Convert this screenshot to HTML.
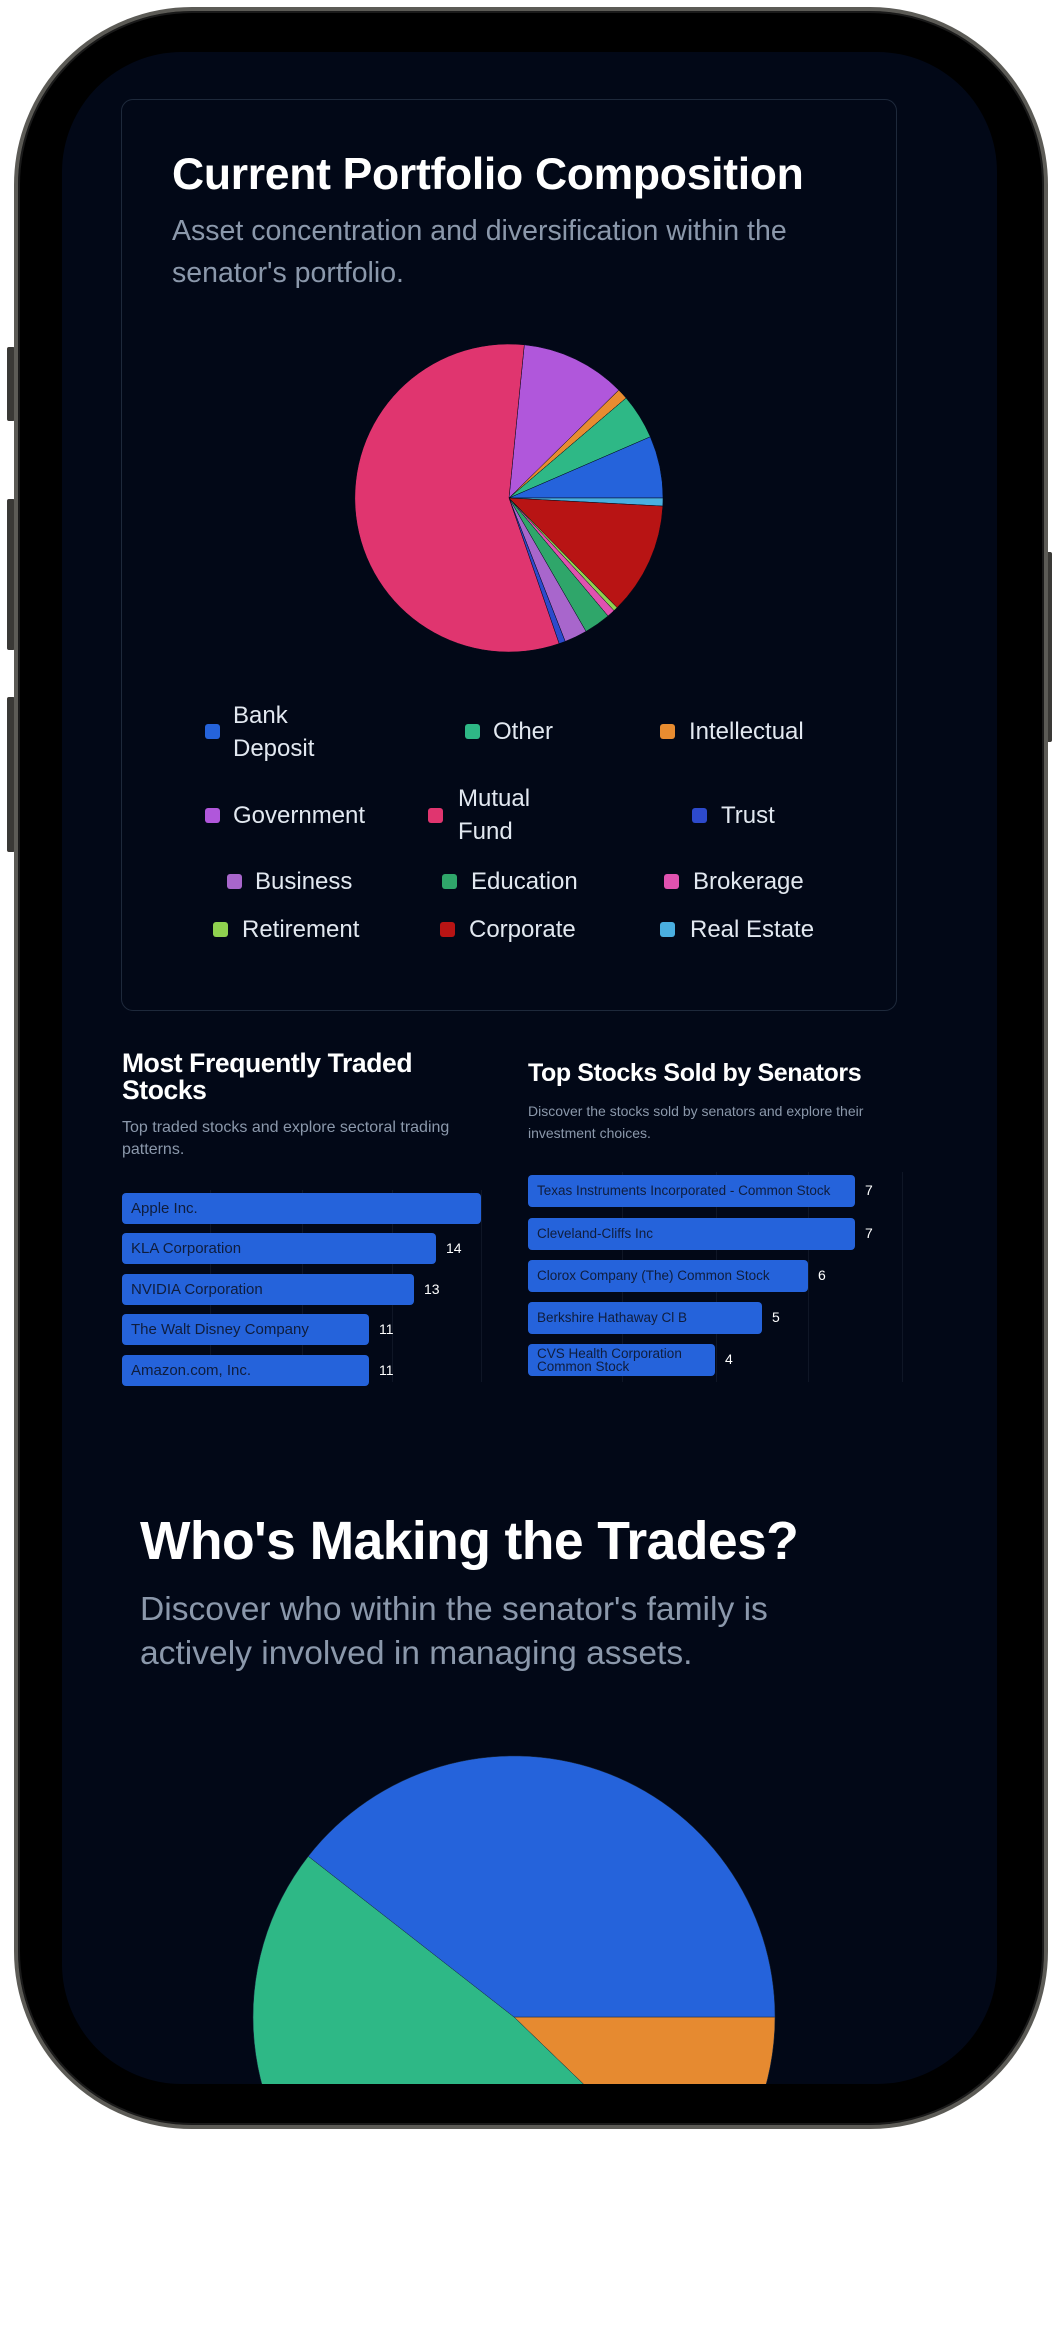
<!DOCTYPE html>
<html><head><meta charset="utf-8"><style>
*{margin:0;padding:0;box-sizing:border-box}
body{width:1055px;height:2330px;background:#fff;position:relative;overflow:hidden;font-family:"Liberation Sans",sans-serif}
.abs{position:absolute}
.phone{left:14px;top:7px;width:1034px;height:2122px;border-radius:178px;background:#000;border:4px solid #5c5b56;box-shadow:inset 0 0 0 2px #1a1a1a}
.btn{background:#3a3936;border-radius:2px}
.screen{left:62px;top:52px;width:935px;height:2032px;border-radius:120px;background:#020817;overflow:hidden}
.t{position:absolute;white-space:nowrap}
.leg{color:#e2e8f0;font-size:24px;line-height:33px}
.sw{position:absolute;width:15px;height:15px;border-radius:3px}
.bar{position:absolute;height:31px;background:#2563db;border-radius:4px;color:#0f1d3d;font-size:15px;line-height:31px;padding-left:9px;white-space:nowrap;overflow:hidden}
.val{position:absolute;color:#fff;font-size:14px;line-height:31px}
.grid{position:absolute;width:1px;background:#0f1626}
</style></head><body>
<div class="abs btn" style="left:7px;top:347px;width:8px;height:74px"></div>
<div class="abs btn" style="left:7px;top:499px;width:8px;height:151px"></div>
<div class="abs btn" style="left:7px;top:697px;width:8px;height:155px"></div>
<div class="abs btn" style="left:1044px;top:552px;width:8px;height:190px"></div>
<div class="abs phone"></div>
<div class="abs screen">
<div style="position:absolute;left:-62px;top:-52px;width:1055px;height:2330px">
<div class="abs" style="left:121px;top:99px;width:776px;height:912px;border:1.5px solid #1e293b;border-radius:12px"></div>
<div class="t" style="left:172px;top:150px;font-size:44.5px;font-weight:bold;color:#fff;letter-spacing:-0.3px">Current Portfolio Composition</div>
<div class="t" style="left:172px;top:210px;font-size:28.5px;line-height:42px;color:#8b98ab">Asset concentration and diversification within the<br>senator's portfolio.</div>
<svg class="abs" style="left:0;top:0" width="1055" height="2330">
<g stroke="#020817" stroke-width="0.5">
<path d="M509 498 L524.3 344.8 A154 154 0 0 1 618.8 390.1Z" fill="#b057db"/>
<path d="M509 498 L618.8 390.1 A154 154 0 0 1 626.1 398Z" fill="#e88c30"/>
<path d="M509 498 L626.1 398 A154 154 0 0 1 650.3 436.8Z" fill="#2eb886"/>
<path d="M509 498 L650.3 436.8 A154 154 0 0 1 663 498Z" fill="#2563db"/>
<path d="M509 498 L663 498 A154 154 0 0 1 662.8 506.1Z" fill="#4aafe0"/>
<path d="M509 498 L662.8 506.1 A154 154 0 0 1 617.1 607.6Z" fill="#b81414"/>
<path d="M509 498 L617.1 607.6 A154 154 0 0 1 614 610.6Z" fill="#8fd14f"/>
<path d="M509 498 L614 610.6 A154 154 0 0 1 608 616Z" fill="#e052b0"/>
<path d="M509 498 L608 616 A154 154 0 0 1 586 631.4Z" fill="#2fa66a"/>
<path d="M509 498 L586 631.4 A154 154 0 0 1 565.2 641.4Z" fill="#a866cc"/>
<path d="M509 498 L565.2 641.4 A154 154 0 0 1 559.1 643.6Z" fill="#2d4acc"/>
<path d="M509 498 L559.1 643.6 A154 154 0 1 1 524.3 344.8Z" fill="#e0356f"/>
</g>
<g stroke="#1a2a40" stroke-width="0.5">
<path d="M514 2017 L775 2017 A261 261 0 0 1 701.7 2198.3Z" fill="#e68a30"/>
<path d="M514 2017 L701.7 2198.3 A261 261 0 0 1 308.3 1856.3Z" fill="#2eb886"/>
<path d="M514 2017 L308.3 1856.3 A261 261 0 0 1 775 2017Z" fill="#2563db"/>
</g>
</svg>
<!-- legend -->
<div class="sw" style="left:205px;top:724px;background:#2563db"></div><div class="t leg" style="left:233px;top:699px">Bank<br>Deposit</div>
<div class="sw" style="left:465px;top:724px;background:#2eb886"></div><div class="t leg" style="left:493px;top:715px">Other</div>
<div class="sw" style="left:660px;top:724px;background:#e88c30"></div><div class="t leg" style="left:689px;top:715px">Intellectual</div>
<div class="sw" style="left:205px;top:808px;background:#b057db"></div><div class="t leg" style="left:233px;top:799px">Government</div>
<div class="sw" style="left:428px;top:808px;background:#e0356f"></div><div class="t leg" style="left:458px;top:782px">Mutual<br>Fund</div>
<div class="sw" style="left:692px;top:808px;background:#2d4acc"></div><div class="t leg" style="left:721px;top:799px">Trust</div>
<div class="sw" style="left:227px;top:874px;background:#a866cc"></div><div class="t leg" style="left:255px;top:865px">Business</div>
<div class="sw" style="left:442px;top:874px;background:#2fa66a"></div><div class="t leg" style="left:471px;top:865px">Education</div>
<div class="sw" style="left:664px;top:874px;background:#e052b0"></div><div class="t leg" style="left:693px;top:865px">Brokerage</div>
<div class="sw" style="left:213px;top:922px;background:#8fd14f"></div><div class="t leg" style="left:242px;top:913px">Retirement</div>
<div class="sw" style="left:440px;top:922px;background:#b81414"></div><div class="t leg" style="left:469px;top:913px">Corporate</div>
<div class="sw" style="left:660px;top:922px;background:#4aafe0"></div><div class="t leg" style="left:690px;top:913px">Real Estate</div>
<!-- left bar chart -->
<div class="t" style="left:122px;top:1050px;font-size:26.5px;line-height:27px;font-weight:bold;color:#fff;letter-spacing:-0.4px">Most Frequently Traded<br>Stocks</div>
<div class="t" style="left:122px;top:1117px;font-size:16px;line-height:22px;color:#8b98ab">Top traded stocks and explore sectoral trading<br>patterns.</div>
<div class="grid" style="left:210px;top:1190px;height:192px"></div>
<div class="grid" style="left:302px;top:1190px;height:192px"></div>
<div class="grid" style="left:392px;top:1190px;height:192px"></div>
<div class="grid" style="left:481px;top:1190px;height:192px"></div>
<div class="bar" style="left:122px;top:1193px;width:359px">Apple Inc.</div>
<div class="bar" style="left:122px;top:1233px;width:314px">KLA Corporation</div><div class="val" style="left:446px;top:1233px">14</div>
<div class="bar" style="left:122px;top:1274px;width:292px">NVIDIA Corporation</div><div class="val" style="left:424px;top:1274px">13</div>
<div class="bar" style="left:122px;top:1314px;width:247px">The Walt Disney Company</div><div class="val" style="left:379px;top:1314px">11</div>
<div class="bar" style="left:122px;top:1355px;width:247px">Amazon.com, Inc.</div><div class="val" style="left:379px;top:1355px">11</div>
<!-- right bar chart -->
<div class="t" style="left:528px;top:1059px;font-size:25px;font-weight:bold;color:#fff;letter-spacing:-0.4px">Top Stocks Sold by Senators</div>
<div class="t" style="left:528px;top:1100px;font-size:14px;line-height:22px;color:#8b98ab">Discover the stocks sold by senators and explore their<br>investment choices.</div>
<div class="grid" style="left:622px;top:1172px;height:210px"></div>
<div class="grid" style="left:716px;top:1172px;height:210px"></div>
<div class="grid" style="left:808px;top:1172px;height:210px"></div>
<div class="grid" style="left:902px;top:1172px;height:210px"></div>
<div class="bar" style="left:528px;top:1175px;width:327px;height:32px;font-size:13.5px">Texas Instruments Incorporated - Common Stock</div><div class="val" style="left:865px;top:1175px">7</div>
<div class="bar" style="left:528px;top:1218px;width:327px;height:32px;font-size:13.5px">Cleveland-Cliffs Inc</div><div class="val" style="left:865px;top:1218px">7</div>
<div class="bar" style="left:528px;top:1260px;width:280px;height:32px;font-size:13.5px">Clorox Company (The) Common Stock</div><div class="val" style="left:818px;top:1260px">6</div>
<div class="bar" style="left:528px;top:1302px;width:234px;height:32px;font-size:13.5px">Berkshire Hathaway Cl B</div><div class="val" style="left:772px;top:1302px">5</div>
<div class="bar" style="left:528px;top:1344px;width:187px;height:32px;font-size:13.5px;line-height:13px;padding-top:3px">CVS Health Corporation<br>Common Stock</div><div class="val" style="left:725px;top:1344px">4</div>
<!-- who -->
<div class="t" style="left:140px;top:1511px;font-size:53.5px;font-weight:bold;color:#fff;letter-spacing:-0.6px">Who's Making the Trades?</div>
<div class="t" style="left:140px;top:1588px;font-size:33.6px;line-height:44px;color:#8b98ab">Discover who within the senator's family is<br>actively involved in managing assets.</div>
</div>
</div>
</body></html>
